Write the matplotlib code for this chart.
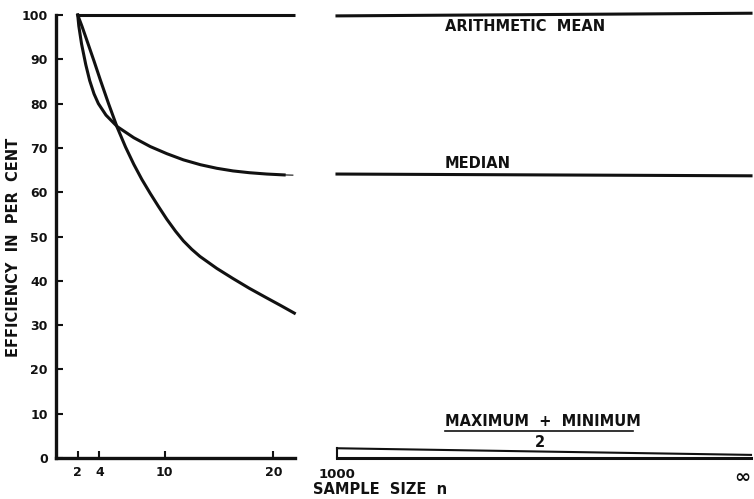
"""Efficiency of mean, median and mid-range versus sample size (broken x axis)."""

import matplotlib

matplotlib.use("Agg")

import matplotlib.pyplot as plt

sample_sizes_median = [2, 2.1, 2.35, 2.74, 3.1, 3.5, 3.9, 4.6, 5.64, 7.16, 8.68, 10.2, 11.73,
                       13.3, 14.8, 16.3, 17.8, 19.4, 21.0]
eff_median = [100, 97.5, 93.5, 88.8, 85.2, 82.2, 80.0, 77.4, 74.8, 72.3, 70.3, 68.7, 67.3,
              66.2, 65.4, 64.8, 64.4, 64.1, 63.9]

sample_sizes_midrange = [2, 2.4, 2.74, 3.5, 4.1, 4.85, 5.64, 6.4, 7.16, 7.9, 8.68, 9.4, 10.2,
                         11.0, 11.73, 12.5, 13.25, 14.8, 16.3, 17.8, 19.35, 20.7, 21.94]
eff_midrange = [100, 97.4, 95.0, 89.6, 85.2, 79.9, 74.6, 70.2, 66.3, 62.9, 59.7, 56.9, 53.9,
                51.2, 49.0, 47.1, 45.5, 42.8, 40.5, 38.3, 36.2, 34.4, 32.7]

mean_span = [2, 22]
eff_mean = [100, 100]

# right panel: n from 1000 to infinity, drawn on a 0..1 scale
large_n_span = [0, 1]
large_n_labels = ["1000", "\u221e"]
eff_mean_large = [99.8, 100.4]
eff_median_large = [64.1, 63.7]
eff_midrange_large = [2.2, 0.7]

left_xticks = [2, 4, 10, 20]
yticks = list(range(0, 101, 10))

INK = "#111111"
LW = 2.2
FONT = dict(fontweight="bold", color=INK, family="DejaVu Sans")

fig = plt.figure(figsize=(7.54, 4.99), dpi=100)
bottom, height = 41 / 499, 443 / 499
ax = fig.add_axes([56 / 754, bottom, 239 / 754, height])
ax2 = fig.add_axes([337 / 754, bottom, 414 / 754, height])

# left panel
ax.plot(mean_span, eff_mean, color=INK, lw=LW, clip_on=False, solid_capstyle="butt")
ax.plot(sample_sizes_median, eff_median, color=INK, lw=LW, clip_on=False,
        solid_joinstyle="round")
ax.plot([21.0, 21.8], [63.9, 63.85], color=INK, lw=0.8, clip_on=False)
ax.plot(sample_sizes_midrange, eff_midrange, color=INK, lw=LW, clip_on=False,
        solid_joinstyle="round")
ax.set_xlim(0, 22)
ax.set_ylim(0, 100)
for side in ("top", "right"):
    ax.spines[side].set_visible(False)
for side in ("left", "bottom"):
    ax.spines[side].set_linewidth(2.4)
    ax.spines[side].set_color(INK)
ax.set_xticks(left_xticks)
ax.set_yticks(yticks)
ax.tick_params(direction="in", length=5, width=1.5, color=INK, labelsize=9, pad=6)
for lab in ax.get_xticklabels() + ax.get_yticklabels():
    lab.set_fontweight("bold")
    lab.set_color(INK)
ax.set_ylabel("EFFICIENCY  IN  PER  CENT", fontsize=10.5, va="center", **FONT)
ax.yaxis.set_label_coords(-0.176, 0.476)

# right panel
ax2.plot(large_n_span, eff_mean_large, color=INK, lw=LW, clip_on=False)
ax2.plot(large_n_span, eff_median_large, color=INK, lw=LW, clip_on=False)
ax2.plot(large_n_span, [0, 0], color=INK, lw=LW, clip_on=False)
ax2.plot([large_n_span[0], large_n_span[0]], [0, eff_midrange_large[0]], color=INK, lw=1.5,
         clip_on=False)
ax2.plot(large_n_span, eff_midrange_large, color=INK, lw=1.5, clip_on=False)
ax2.set_xlim(0, 1)
ax2.set_ylim(0, 100)
for side in ax2.spines:
    ax2.spines[side].set_visible(False)
ax2.set_yticks([])
ax2.set_xticks(large_n_span)
ax2.set_xticklabels(large_n_labels)
ax2.tick_params(length=0, labelsize=9.5, pad=7)
lab_lo, lab_hi = ax2.get_xticklabels()
lab_hi.set_fontsize(14)
lab_hi.set_ha("right")
for lab in (lab_lo, lab_hi):
    lab.set_fontweight("bold")
    lab.set_color(INK)

ax2.text(0.261, 97.3, "ARITHMETIC  MEAN", fontsize=10.5, ha="left", va="center", **FONT)
ax2.text(0.261, 66.5, "MEDIAN", fontsize=10.5, ha="left", va="center", **FONT)
ax2.text(0.261, 8.3, "MAXIMUM  +  MINIMUM", fontsize=10.5, ha="left", va="center", **FONT)
ax2.plot([0.261, 0.715], [6.2, 6.2], color=INK, lw=1.2)
ax2.text(0.49, 3.6, "2", fontsize=10.5, ha="center", va="center", **FONT)

fig.text(313 / 754, 9 / 499, "SAMPLE  SIZE  n", fontsize=10.5, ha="left", va="center", **FONT)

fig.savefig("out.png", dpi=100, facecolor="white")
